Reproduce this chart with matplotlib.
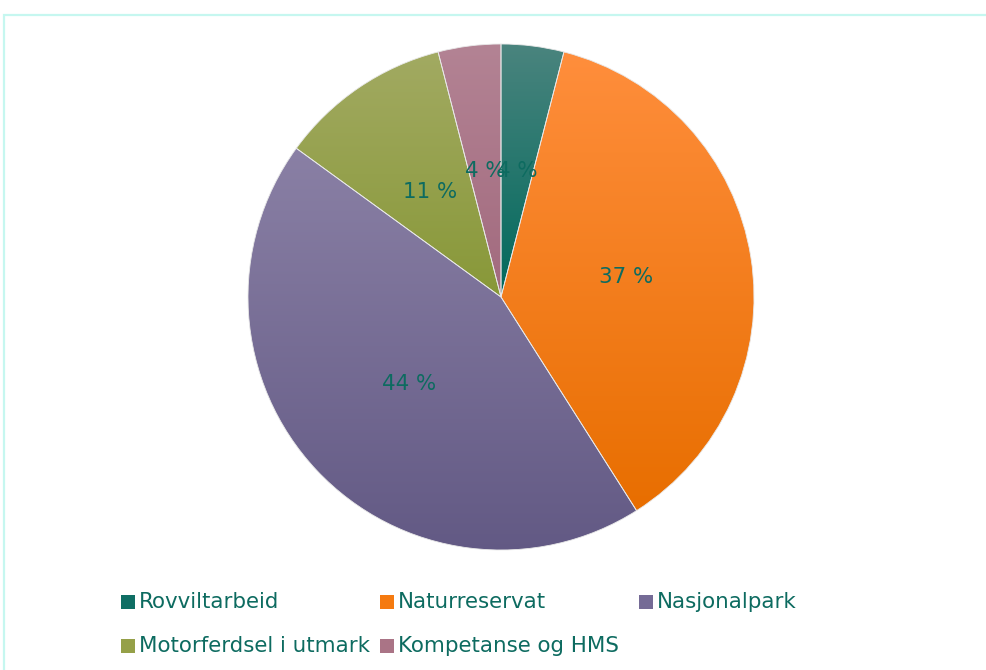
import numpy as np
import matplotlib
matplotlib.use("Agg")
import matplotlib.pyplot as plt
from matplotlib.patches import Rectangle
from matplotlib.colors import LinearSegmentedColormap

categories = ["Rovviltarbeid", "Naturreservat", "Nasjonalpark",
              "Motorferdsel i utmark", "Kompetanse og HMS"]
values = [4, 37, 44, 11, 4]
top_colors = ["#4a847e", "#ff8e3c", "#8a80a5", "#a2aa62", "#b38394"]
bottom_colors = ["#00695c", "#e86e00", "#625984", "#889838", "#a26a7e"]
legend_colors = ["#0f6e64", "#f57a10", "#756b96", "#95a048", "#aa7486"]

TEXT_COLOR = "#0d6b60"
FONT_FAMILY = "DejaVu Sans"

W, H = 986, 670
fig = plt.figure(figsize=(W / 100, H / 100), dpi=100)
renderer = fig.canvas.get_renderer()

# pick a font size so the longest legend entry is about 232 px wide
probe = fig.text(0, 0, categories[3], fontsize=10, family=FONT_FAMILY)
wpx = probe.get_window_extent(renderer).width
probe.remove()
FS = 10 * 232 / wpx
FS = min(FS, 16.5)

# frame (right and bottom edges run off the picture)
fig.patches.append(Rectangle((4 / W, -0.2), 1.2, (H - 15) / H + 0.2, transform=fig.transFigure,
                             fill=False, edgecolor="#c6f7f0", linewidth=1.6))

cx, cy, r = 501, 297, 253
ax = fig.add_axes([(cx - r) / W, (H - cy - r) / H, 2 * r / W, 2 * r / H])
ax.set_xlim(-1, 1)
ax.set_ylim(-1, 1)
ax.set_aspect("equal")
ax.axis("off")

wedges, texts = ax.pie(values, startangle=90, counterclock=False, radius=1,
                       labels=[f"{v} %" for v in values], labeldistance=0.5,
                       wedgeprops=dict(linewidth=0.6, edgecolor="#e8e8e8"))
for w, t, c0, c1 in zip(wedges, texts, top_colors, bottom_colors):
    w.set_facecolor("none")
    verts = w.get_path().vertices
    x0, x1 = verts[:, 0].min(), verts[:, 0].max()
    y0, y1 = verts[:, 1].min(), verts[:, 1].max()
    cmap = LinearSegmentedColormap.from_list("g", [c1, c0])
    grad = np.linspace(0, 1, 256).reshape(-1, 1)
    im = ax.imshow(grad, cmap=cmap, origin="lower", extent=[x0, x1, y0, y1],
                   aspect="auto", zorder=0.5, interpolation="bilinear")
    im.set_clip_path(w)
    t.set_color(TEXT_COLOR)
    t.set_fontsize(FS)
    t.set_fontfamily(FONT_FAMILY)
    t.set_ha("center")
    t.set_va("center")
    t.set_zorder(5)
ax.set_xlim(-1, 1)
ax.set_ylim(-1, 1)

# legend
positions = [(121, 602), (380, 602), (639, 602), (121, 646), (380, 646)]
sq = 14
for (px, py), name, col in zip(positions, categories, legend_colors):
    fig.patches.append(Rectangle((px / W, (H - py - sq / 2) / H), sq / W, sq / H,
                                 transform=fig.transFigure, facecolor=col, edgecolor="none"))
    fig.text((px + sq + 4) / W, (H - py) / H, name, color=TEXT_COLOR, fontsize=FS,
             ha="left", va="center", family=FONT_FAMILY)

fig.savefig("out.png", dpi=100)
